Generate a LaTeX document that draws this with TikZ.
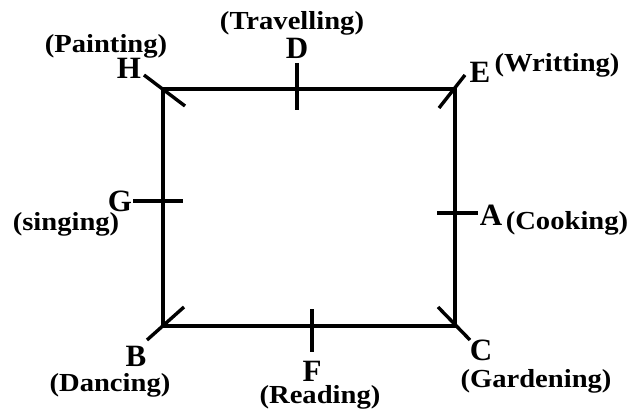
\documentclass[tikz,border=0pt]{standalone}
\usepackage{fontspec}
\setmainfont{Liberation Serif}
\newfontfamily\widefont{Liberation Serif}[FakeStretch=1.1]
\begin{document}
\begin{tikzpicture}[x=1pt,y=-1pt,
  edge/.style={line width=3.4pt,line cap=butt},
  tick/.style={line width=3.4pt},
  letter/.style={inner sep=0pt,font=\fontsize{31}{31}\selectfont\bfseries},
  hobby/.style={inner sep=0pt,font=\widefont\fontsize{26}{26}\selectfont\bfseries}]
\useasboundingbox (0,0) rectangle (632,409);
% corners
\coordinate (TL) at (163,89);
\coordinate (TR) at (455,89);
\coordinate (BR) at (455,326);
\coordinate (BL) at (163,326);
\draw[edge] (TL) -- (TR) -- (BR) -- (BL) -- cycle;
% tick end points
\coordinate (h1) at (144,75);  \coordinate (h2) at (185,106);
\coordinate (d1) at (297,63);  \coordinate (d2) at (297,110);
\coordinate (e1) at (465,75);  \coordinate (e2) at (439,108);
\coordinate (g1) at (133,201); \coordinate (g2) at (183,201);
\coordinate (a1) at (437,213); \coordinate (a2) at (478,213);
\coordinate (b1) at (147,340); \coordinate (b2) at (184,307);
\coordinate (f1) at (312,309); \coordinate (f2) at (312,352);
\coordinate (c1) at (438,307); \coordinate (c2) at (470,340);
\draw[tick] (h1) -- (h2);
\draw[tick] (d1) -- (d2);
\draw[tick] (e1) -- (e2);
\draw[tick] (g1) -- (g2);
\draw[tick] (a1) -- (a2);
\draw[tick] (b1) -- (b2);
\draw[tick] (f1) -- (f2);
\draw[tick] (c1) -- (c2);
% letters
\node[letter] (H) at (129,68) {H};
\node[letter] (D) at (297,48) {D};
\node[letter] (E) at (480,72) {E};
\node[letter] (G) at (120,201) {G};
\node[letter] (A) at (491,215) {A};
\node[letter] (B) at (136,356) {B};
\node[letter] (F) at (312,371) {F};
\node[letter] (C) at (481,350) {C};
% hobbies
\node[hobby] (painting) at (106,46) {(Painting)};
\node[hobby] (travelling) at (292,23) {(Travelling)};
\node[hobby] (writting) at (557,65) {(Writting)};
\node[hobby] (singing) at (66,224) {(singing)};
\node[hobby] (cooking) at (567,223) {(Cooking)};
\node[hobby] (dancing) at (110,385) {(Dancing)};
\node[hobby] (reading) at (320,397) {(Reading)};
\node[hobby] (gardening) at (536,381) {(Gardening)};
\end{tikzpicture}
\end{document}
